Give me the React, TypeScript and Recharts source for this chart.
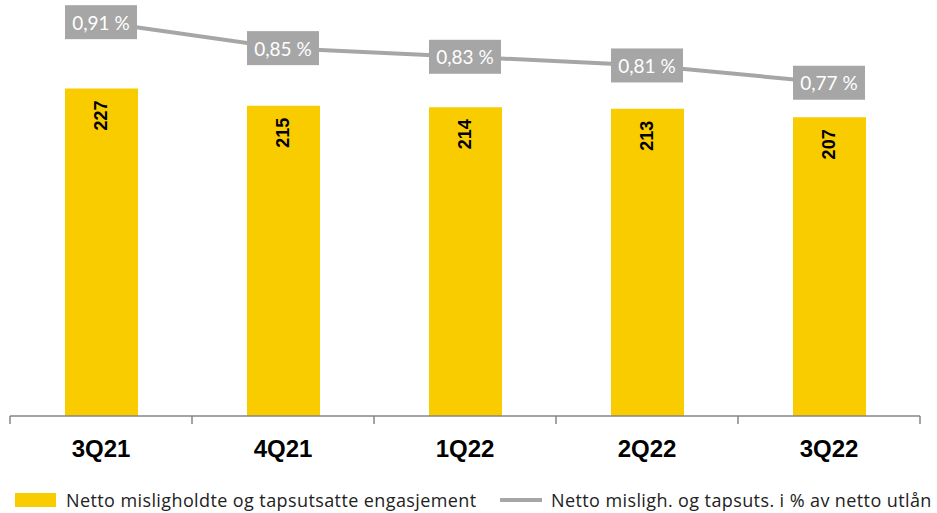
import React from 'react';
import { ComposedChart, Bar, Line, XAxis, YAxis, LabelList } from 'recharts';

const quarters = ['3Q21', '4Q21', '1Q22', '2Q22', '3Q22'];
const nettoEngasjement = [227, 215, 214, 213, 207];
const andelUtlan = [0.91, 0.85, 0.83, 0.81, 0.77];

const barLabel = 'Netto misligholdte og tapsutsatte engasjement';
const lineLabel = 'Netto misligh. og tapsuts. i % av netto utlån';

const YELLOW = '#F9CC00';
const GRAY = '#A6A6A6';
const AXIS = '#868686';

const chartData = quarters.map((q, i) => ({
  name: q,
  engasjement: nettoEngasjement[i],
  andel: andelUtlan[i],
}));

const BarValue = (props: any) => {
  const { x, y, width, value } = props;
  const cx = x + width / 2;
  const cy = y + 12;
  return (
    <text
      x={cx}
      y={cy}
      transform={`rotate(-90 ${cx} ${cy})`}
      textAnchor="end"
      dominantBaseline="central"
      fontFamily="'Liberation Sans', Arial, sans-serif"
      fontWeight="bold"
      fontSize={18}
      fill="#000"
    >
      {value}
    </text>
  );
};

const LineValue = (props: any) => {
  const { x, y, value } = props;
  const w = 72;
  const h = 34;
  return (
    <g>
      <rect x={x - w / 2} y={y - h / 2} width={w} height={h} fill={GRAY} />
      <text
        x={x}
        y={y}
        textAnchor="middle"
        dominantBaseline="central"
        fontFamily="Lato, 'Open Sans', sans-serif"
        fontSize={19}
        fill="#fff"
      >
        {value.toFixed(2).replace('.', ',') + ' %'}
      </text>
    </g>
  );
};

// category label plus tick marks on the category boundaries
const QuarterTick = (props: any) => {
  const { x, y, payload, index, visibleTicksCount, width } = props;
  const band = width / visibleTicksCount;
  const last = index === visibleTicksCount - 1;
  return (
    <g>
      <line x1={x - band / 2} x2={x - band / 2} y1={y} y2={y + 8} stroke={AXIS} strokeWidth={1.5} />
      {last && <line x1={x + band / 2} x2={x + band / 2} y1={y} y2={y + 8} stroke={AXIS} strokeWidth={1.5} />}
      <text
        x={x}
        y={y + 41}
        textAnchor="middle"
        fontFamily="'Liberation Sans', Arial, sans-serif"
        fontWeight="bold"
        fontSize={24}
        fill="#000"
      >
        {payload.value}
      </text>
    </g>
  );
};

export default function App() {
  return (
    <div style={{ position: 'absolute', left: 0, top: 0, width: 937, height: 513, background: '#fff' }}>
      <ComposedChart
        width={937}
        height={470}
        data={chartData}
        margin={{ top: 12, right: 17, left: 10, bottom: 0 }}
      >
        <XAxis
          dataKey="name"
          height={54}
          axisLine={{ stroke: AXIS, strokeWidth: 1.5 }}
          tickLine={false}
          tickSize={0}
          tickMargin={0}
          tick={<QuarterTick />}
          interval={0}
        />
        <YAxis yAxisId="left" hide domain={[0, 280]} />
        <YAxis yAxisId="right" orientation="right" hide domain={[0, 0.9335]} />
        <Bar yAxisId="left" dataKey="engasjement" fill={YELLOW} barSize={73} isAnimationActive={false}>
          <LabelList dataKey="engasjement" content={<BarValue />} />
        </Bar>
        <Line
          yAxisId="right"
          dataKey="andel"
          stroke={GRAY}
          strokeWidth={4}
          dot={false}
          isAnimationActive={false}
        >
          <LabelList dataKey="andel" content={<LineValue />} />
        </Line>
      </ComposedChart>
      <div
        style={{
          position: 'absolute',
          top: 488,
          left: 15,
          display: 'flex',
          alignItems: 'center',
          fontFamily: "'Open Sans', Lato, sans-serif",
          fontSize: 18,
          letterSpacing: 0.4,
          color: '#222',
          whiteSpace: 'nowrap',
        }}
      >
        <span style={{ display: 'inline-block', width: 41, height: 14, background: YELLOW, marginRight: 10 }} />
        <span style={{ width: 434 }}>{barLabel}</span>
        <span style={{ display: 'inline-block', width: 42, height: 4, background: GRAY, marginRight: 9 }} />
        <span>{lineLabel}</span>
      </div>
    </div>
  );
}
